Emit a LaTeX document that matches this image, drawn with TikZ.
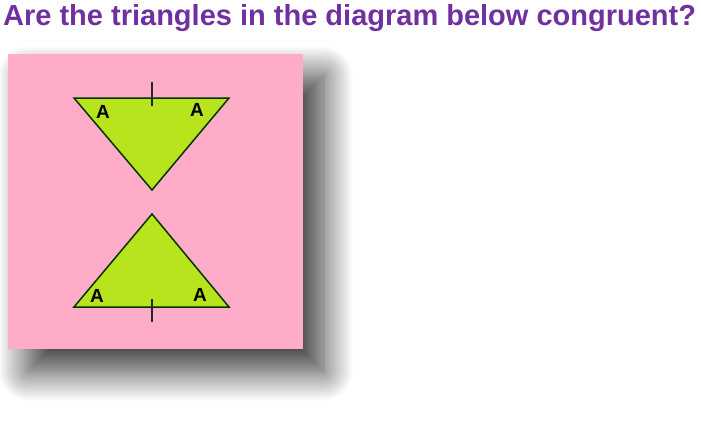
\documentclass[tikz,border=0pt]{standalone}
\usepackage{fontspec}
\setmainfont{Liberation Sans}
\usetikzlibrary{shadows.blur}
\definecolor{titlepurple}{RGB}{112,48,160}
\definecolor{cardpink}{RGB}{255,172,200}
\definecolor{trigreen}{RGB}{184,228,30}

\begin{document}
\begin{tikzpicture}[x=1pt,y=-1pt,
    angle/.style={font=\bfseries\fontsize{19}{20}\selectfont},
    tri/.style={draw=black!80!green, line width=1.5pt, fill=trigreen, line join=miter},
    tick/.style={draw=black!85, line width=1.2pt}]
\useasboundingbox (0,0) rectangle (701,423);
\node[anchor=base west, text=titlepurple, font=\bfseries\fontsize{29}{32}\selectfont, inner sep=0pt] (title) at (3,25) {Are the triangles in the diagram below congruent?};
\fill[cardpink, blur shadow={shadow xshift=20pt, shadow yshift=-22pt, shadow blur radius=30pt, shadow blur steps=40, shadow opacity=80}] (8,54) rectangle (303,349);
% top triangle
\coordinate (t1) at (74,98);
\coordinate (t2) at (229,98);
\coordinate (t3) at (152,190);
\draw[tri] (t1) -- (t2) -- (t3) -- cycle;
\coordinate (ta) at (152,82);
\coordinate (tb) at (152,106);
\draw[tick] (ta) -- (tb);
\node[angle] (ta1) at (103,112) {A};
\node[angle] (ta2) at (197,110) {A};
% bottom triangle
\coordinate (b1) at (74,307);
\coordinate (b2) at (229,307);
\coordinate (b3) at (152,214);
\draw[tri] (b1) -- (b2) -- (b3) -- cycle;
\coordinate (ba) at (152,299);
\coordinate (bb) at (152,322);
\draw[tick] (ba) -- (bb);
\node[angle] (ba1) at (97,296) {A};
\node[angle] (ba2) at (200,295) {A};
\end{tikzpicture}
\end{document}
